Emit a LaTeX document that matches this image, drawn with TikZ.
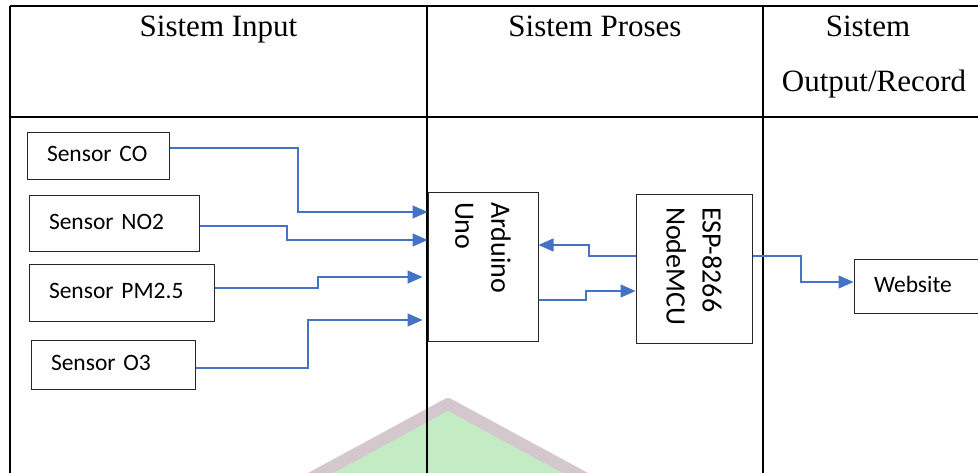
\documentclass[tikz,border=0pt]{standalone}
\usepackage{fontspec}
\setmainfont{Liberation Serif}
\newfontfamily\calib{Carlito}
\usetikzlibrary{arrows.meta}
\definecolor{offblue}{HTML}{4472C4}
\definecolor{wmgrey}{RGB}{212,200,206}
\definecolor{wmgreen}{RGB}{196,236,196}
\tikzset{
  grid/.style={line width=1.8pt, black},
  hdr/.style={font=\fontsize{31}{37}\selectfont, anchor=base, inner sep=0pt},
  sbox/.style={draw=black!85, line width=1pt, font=\calib\fontsize{23.5}{28}\selectfont,
     inner xsep=20pt, inner ysep=0pt, align=left, text height=17pt, text depth=5pt},
  vbox/.style={draw=black!85, line width=1pt, rotate=-90, font=\calib\fontsize{28}{36}\selectfont,
     align=left, inner ysep=0pt},
  arr/.style={offblue, line width=1.1pt, -{Triangle[length=15pt,width=13pt]}},
}
\begin{document}
\begin{tikzpicture}[x=1pt,y=-1pt]
\useasboundingbox (0,0) rectangle (978,472);
\clip (0,0) rectangle (978,472);
% watermark
\draw[wmgrey, line width=12pt, line join=round, fill=wmgreen] (448,404) -- (280,495) -- (616,495) -- cycle;
% table grid
\draw[grid] (10,6) -- (995,6);
\draw[grid] (10,117) -- (995,117);
\draw[grid] (10,6) -- (10,480);
\draw[grid] (427,6) -- (427,480);
\draw[grid] (763,6) -- (763,480);
% headers
\node[hdr] (h1) at (218.5,36) {Sistem Input};
\node[hdr] (h2) at (595,36) {Sistem Proses};
\node[hdr] (h3) at (868,36) {Sistem};
\node[hdr] (h4) at (874,91) {Output/Record};
% sensors
\node[sbox, text width=102pt, minimum height=47pt] (co) at (98,155.5) {Sensor CO};
\node[sbox, text width=130pt, minimum height=56pt] (no2) at (114,223) {Sensor NO2};
\node[sbox, text width=145pt, minimum height=57pt] (pm) at (121.5,292.5) {Sensor PM2.5};
\node[sbox, text width=124pt, minimum height=49pt] (o3) at (113,364.5) {Sensor O3};
% processors (rotated: south = left side, north = right side)
\node[vbox, text width=129pt, inner xsep=10pt, minimum height=110pt] (ard) at (483,266.5) {Arduino\\Uno};
\node[vbox, text width=123pt, inner xsep=13pt, minimum height=116pt] (esp) at (694,268.5) {ESP-8266\\NodeMCU};
% output
\node[sbox, text width=106pt, minimum height=54pt] (web) at (927,286) {Website};
% connectors
\draw[arr] (co.east |- 0,148) -| (298,212) -- (ard.south |- 0,212);
\draw[arr] (no2.east |- 0,226) -| (287,240) -- (ard.south |- 0,240);
\draw[arr] (pm.east |- 0,288) -| (318,277) -- ([xshift=-5pt]ard.south |- 0,277);
\draw[arr] (o3.east |- 0,368) -| (308,320) -- ([xshift=-5pt]ard.south |- 0,320);
\draw[arr] (esp.south |- 0,256) -- (589,256) |- (ard.north |- 0,245);
\draw[arr] (ard.north |- 0,300) -- (586,300) |- (esp.south |- 0,291);
\draw[arr] (esp.north |- 0,256) -| (801,282) -- (web.west |- 0,282);
\end{tikzpicture}
\end{document}
